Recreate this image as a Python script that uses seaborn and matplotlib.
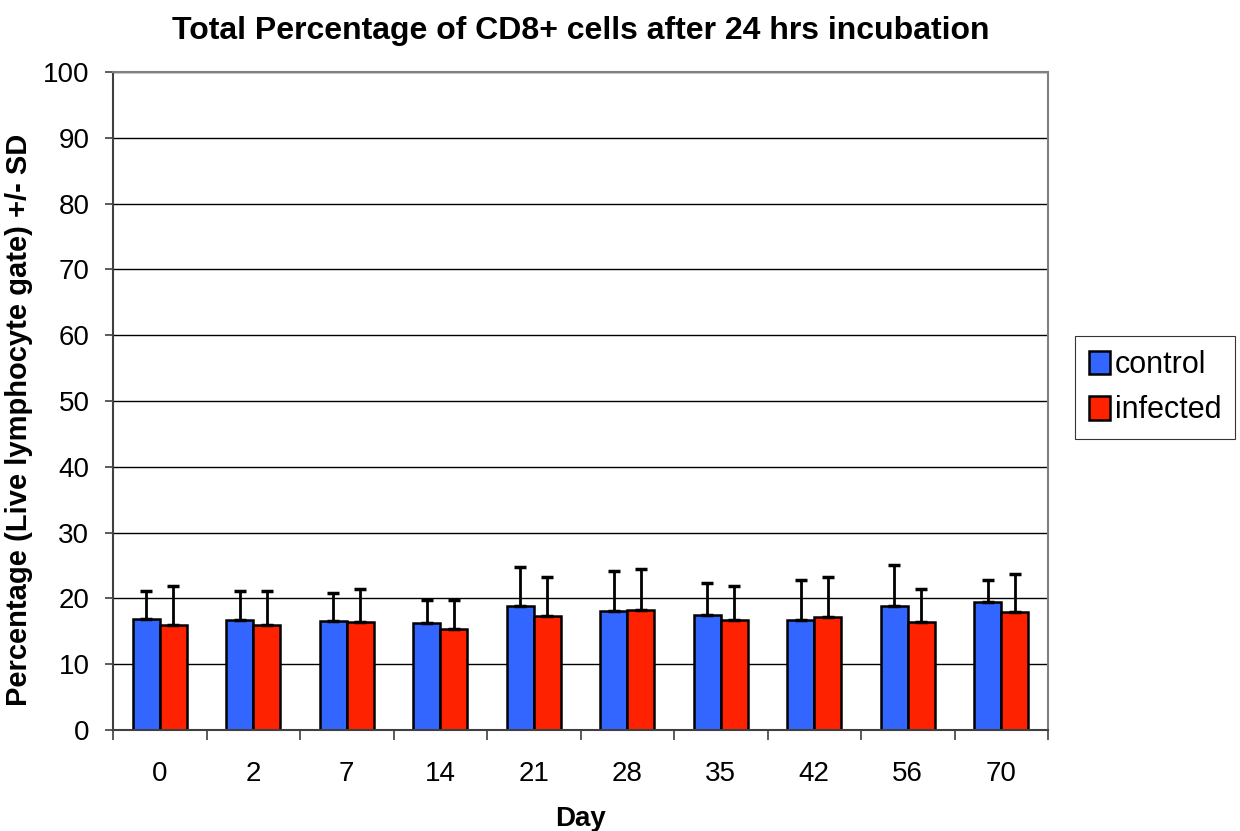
import numpy as np
import pandas as pd
import matplotlib
matplotlib.use("Agg")
import matplotlib.pyplot as plt
import seaborn as sns

days = ["0", "2", "7", "14", "21", "28", "35", "42", "56", "70"]
control = [16.9, 16.7, 16.6, 16.2, 18.9, 18.1, 17.5, 16.7, 18.9, 19.4]
control_sd = [4.2, 4.5, 4.2, 3.6, 5.8, 6.1, 4.8, 6.1, 6.2, 3.4]
infected = [15.9, 15.9, 16.4, 15.4, 17.3, 18.3, 16.7, 17.1, 16.4, 18.0]
infected_sd = [6.0, 5.2, 5.1, 4.3, 5.9, 6.1, 5.2, 6.1, 5.1, 5.7]
groups = ["control", "infected"]
colors = {"control": "#3366FF", "infected": "#FF2200"}

df = pd.DataFrame({
    "Day": days * 2,
    "value": control + infected,
    "sd": control_sd + infected_sd,
    "group": ["control"] * len(days) + ["infected"] * len(days),
})

sns.set_style("white")
plt.rcParams["font.family"] = ["Liberation Sans", "DejaVu Sans"]
for k in ["text.color", "axes.labelcolor", "xtick.color", "ytick.color"]:
    plt.rcParams[k] = "black"

fig = plt.figure(figsize=(12.4, 8.31), dpi=100)
ax = fig.add_axes([113/1240, 1 - 730/831, (1048-113)/1240, (730-72)/831])

for y in range(10, 101, 10):
    ax.axhline(y, color="black", lw=1.0, zorder=0)

sns.barplot(data=df, x="Day", y="value", hue="group", hue_order=groups,
            order=days, palette=colors, saturation=1, width=0.58, edgecolor="black",
            linewidth=1.8, ax=ax, zorder=2, legend=True)

for cont, g in zip(ax.containers, groups):
    sub = df[df["group"] == g]
    xs = [b.get_x() + b.get_width() / 2 for b in cont]
    hs = [b.get_height() for b in cont]
    sds = sub["sd"].to_numpy()
    ax.errorbar(xs, hs, yerr=[np.zeros_like(sds), sds], fmt="none",
                ecolor="black", elinewidth=2, capsize=4, capthick=2.5, zorder=3)

ax.set_ylim(0, 100)
ax.set_xlim(-0.5, len(days) - 0.5)
ax.set_yticks(range(0, 101, 10))
ax.tick_params(axis="y", labelsize=20, length=6, width=1.2, direction="out", left=True,
               color="#404040", pad=11)
ax.set_xticks(range(len(days)))
ax.set_xticklabels(days, fontsize=20)
ax.tick_params(axis="x", length=0, pad=22)
ax.set_xticks(np.arange(-0.5, len(days), 1), minor=True)
ax.tick_params(axis="x", which="minor", length=7, width=1.2, direction="out", bottom=True, color="#404040")

for s in ax.spines.values():
    s.set_color("#808080")
    s.set_linewidth(1.5)
ax.spines["bottom"].set_color("#404040")
ax.spines["left"].set_color("#404040")

ax.set_xlabel("Day", fontsize=20, fontweight="bold", labelpad=14)
ax.set_ylabel("Percentage (Live lymphocyte gate) +/- SD", fontsize=21, fontweight="bold")
ax.yaxis.set_label_coords(-0.086, 0.471)
ax.set_title("Total Percentage of CD8+ cells after 24 hrs incubation", fontsize=23, fontweight="bold", pad=24)

handles, labels = ax.get_legend_handles_labels()
leg = ax.legend(handles, labels, loc="center left", bbox_to_anchor=(1.029, 0.52), fontsize=22,
                frameon=True, fancybox=False, edgecolor="black", handlelength=0.7,
                handleheight=0.8, handletextpad=0.15, labelspacing=0.5, borderpad=0.45,
                borderaxespad=0)
leg.get_frame().set_linewidth(0.8)

fig.savefig("out.png", dpi=100)
